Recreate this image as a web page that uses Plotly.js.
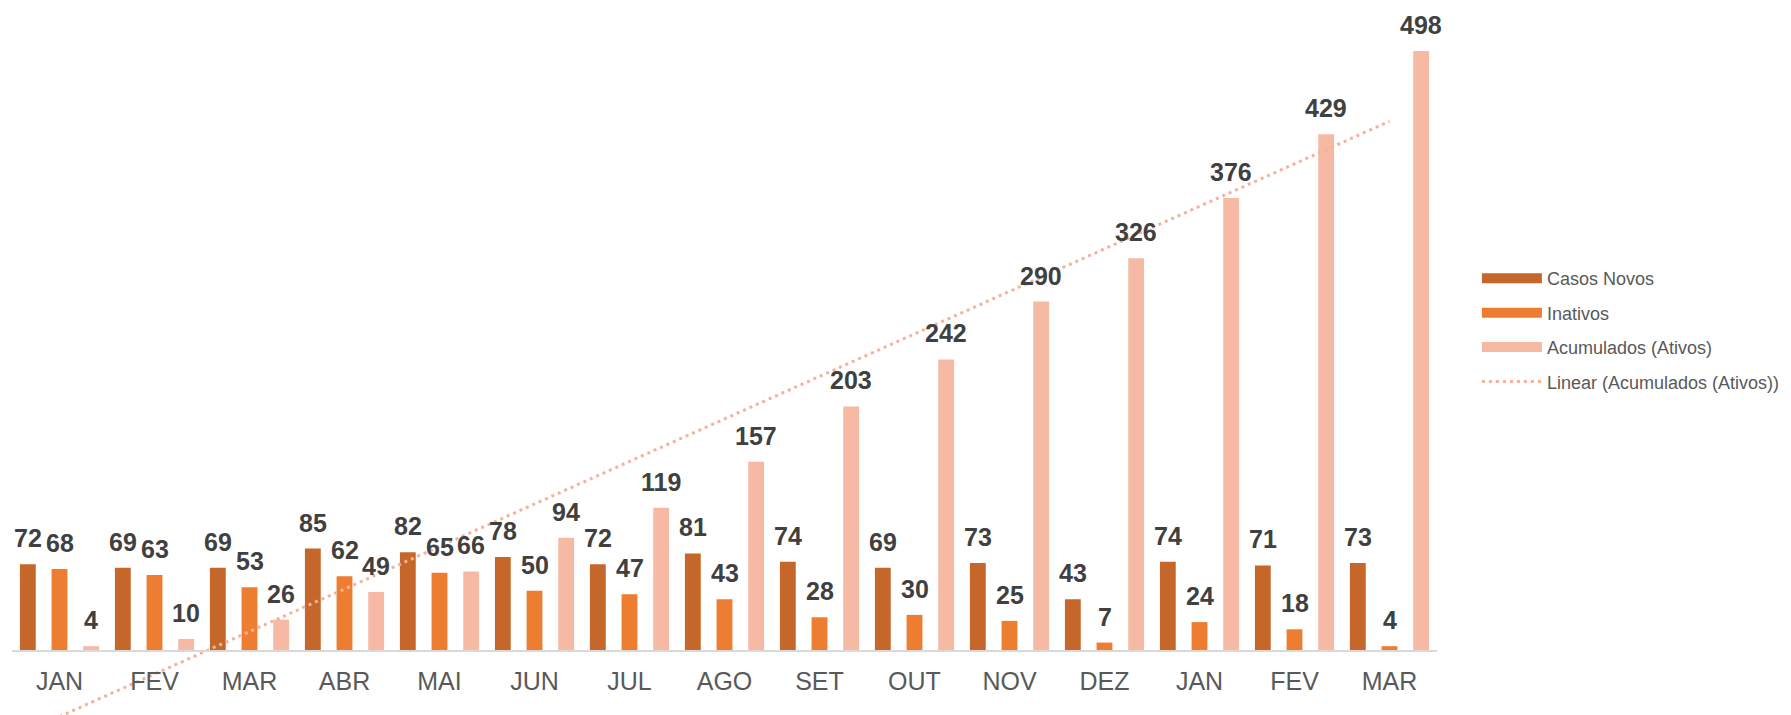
<!DOCTYPE html>
<html>
<head>
<meta charset="utf-8">
<script src="https://cdn.plot.ly/plotly-3.0.1.min.js"></script>
<style>
  html, body { margin: 0; padding: 0; background: #ffffff; }
  #chart { width: 1791px; height: 715px; }
</style>
</head>
<body>
<div id="chart"></div>
<script>
// ---- Data ----
const months = ['JAN','FEV','MAR','ABR','MAI','JUN','JUL','AGO','SET','OUT','NOV','DEZ','JAN','FEV','MAR'];
const casosNovos = [72, 69, 69, 85, 82, 78, 72, 81, 74, 69, 73, 43, 74, 71, 73];
const inativos   = [68, 63, 53, 62, 65, 50, 47, 43, 28, 30, 25, 7, 24, 18, 4];
const acumulados = [4, 10, 26, 49, 66, 94, 119, 157, 203, 242, 290, 326, 376, 429, 498];

const seriesNames = ['Casos Novos', 'Inativos', 'Acumulados (Ativos)'];
const trendName = 'Linear (Acumulados (Ativos))';

// ---- Styles ----
const colors = ['#C5672A', '#ED7D31', '#F5B9A4'];
const trendColor = '#F4B29C';
const FONT = 'Arial, "Liberation Sans", sans-serif';

const idx = months.map((_, i) => i);
const seriesValues = [casosNovos, inativos, acumulados];

// Linear trendline (least squares, like Excel's "Linear" trendline)
const n = acumulados.length;
const mx = idx.reduce((a, b) => a + b, 0) / n;
const my = acumulados.reduce((a, b) => a + b, 0) / n;
let sxy = 0, sxx = 0;
idx.forEach((x, i) => { sxy += (x - mx) * (acumulados[i] - my); sxx += (x - mx) * (x - mx); });
const slope = sxy / sxx;
const intercept = my - slope * mx;
const trendX = [idx[0], idx[n - 1]];
const trendY = trendX.map(x => intercept + slope * x);

const traces = [];
seriesValues.forEach((vals, s) => {
  traces.push({
    type: 'bar',
    x: idx,
    y: vals,
    name: seriesNames[s],
    marker: { color: colors[s] },
    showlegend: false,
    hoverinfo: 'x+y+name'
  });
});
traces.push({
  type: 'scatter',
  mode: 'lines',
  x: trendX,
  y: trendY,
  name: trendName,
  line: { color: trendColor, width: 3, dash: '3px,4px' },
  showlegend: false,
  hoverinfo: 'skip'
});
// legend entries (wide swatches like the reference)
seriesValues.forEach((vals, s) => {
  traces.push({
    type: 'scatter', mode: 'lines', x: [null], y: [null],
    name: seriesNames[s], legendgroup: 'g' + s,
    line: { color: colors[s], width: 10 },
    hoverinfo: 'skip'
  });
});
traces.push({
  type: 'scatter', mode: 'lines', x: [null], y: [null],
  name: trendName, legendgroup: 'g3',
  line: { color: trendColor, width: 3, dash: '3px,4px' },
  hoverinfo: 'skip'
});

// data labels
const annotations = [];
const offsets = [-1/3, 0, 1/3];
seriesValues.forEach((vals, s) => {
  vals.forEach((v, i) => {
    annotations.push({
      x: idx[i] + offsets[s], y: v, xref: 'x', yref: 'y',
      text: '<b>' + v + '</b>', showarrow: false,
      yanchor: 'bottom', yshift: 10,
      font: { family: FONT, size: 25, color: '#404040' }
    });
  });
});

// geometry: plot area 12..1437 px horizontally; y=0 at px 651, y=498 at px 51
const H = 715, T = 10, B = 0;
const zeroPx = 651, k = 600 / 498;
const yMin = -(H - B - zeroPx) / k;
const yMax = (zeroPx - T) / k;

const layout = {
  width: 1791, height: 715,
  margin: { l: 12, r: 354, t: T, b: B, pad: 0 },
  paper_bgcolor: '#ffffff', plot_bgcolor: 'rgba(0,0,0,0)',
  barmode: 'group', bargap: 0, bargroupgap: 0.5,
  font: { family: FONT, color: '#595959' },
  xaxis: {
    range: [-0.5, n - 0.5],
    tickvals: idx, ticktext: months,
    anchor: 'free', position: (H - B - zeroPx) / (H - T - B),
    showline: true, linecolor: '#D9D9D9', linewidth: 2,
    ticks: '', showgrid: false, zeroline: false,
    tickfont: { family: FONT, size: 25, color: '#595959' },
    ticklabelstandoff: 8
  },
  yaxis: {
    range: [yMin, yMax], visible: false, showgrid: false, zeroline: false
  },
  legend: {
    x: 1.028, xanchor: 'left', y: 0.546, yanchor: 'middle',
    font: { family: FONT, size: 18, color: '#595959' },
    tracegroupgap: 8, itemwidth: 60,
    bgcolor: 'rgba(0,0,0,0)'
  },
  annotations: annotations,
  showlegend: true
};

Plotly.newPlot('chart', traces, layout, { displayModeBar: false, staticPlot: true });
</script>
</body>
</html>
